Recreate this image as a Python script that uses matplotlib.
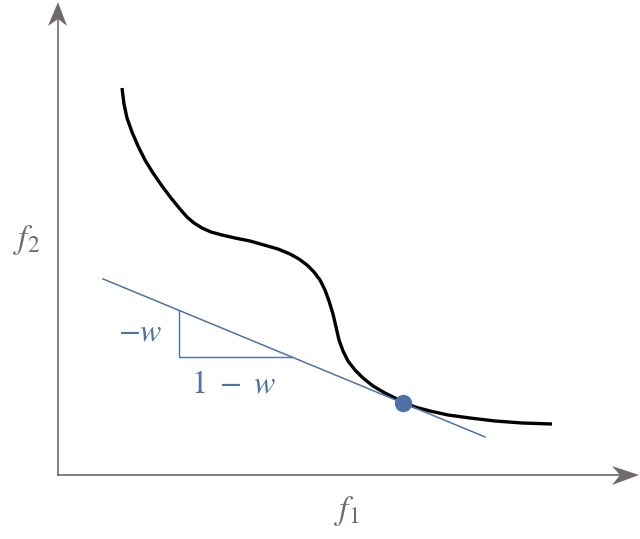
# Pareto front with a weighted-sum tangent line
import numpy as np
import matplotlib.pyplot as plt
from matplotlib.patches import Polygon

plt.rcParams['mathtext.fontset'] = 'stix'

# front (origin at the axes corner, y up)
f1 = np.array([64, 66, 69, 74, 80, 87, 95, 104, 113, 122, 129, 136, 144, 153, 164,
               177, 192, 206, 220, 232, 241, 249, 256, 262, 267, 271, 275, 278, 281,
               285, 290, 297, 305, 315, 327, 337, 345, 357, 372, 390, 412, 437, 464, 494])
f2 = np.array([387, 371, 357, 343, 329, 315, 302, 289, 277, 266, 258, 252, 247, 243, 240,
               237, 234, 230, 226, 221, 216, 210, 203, 195, 185, 174, 161, 148, 135,
               124, 114, 105, 97, 89, 82, 77, 73, 68, 64, 60, 57, 54, 52, 51])

opt = (345, 72)          # tangent point
slope = -0.4136          # -w/(1-w)
line_x = np.array([45, 427])
tri_x = np.array([121, 234])

grey = '#6f6b6b'
blue = '#4c72a6'

fig = plt.figure(figsize=(6.4, 5.39), dpi=100)
ax = fig.add_axes([0, 0, 1, 1])
ax.set_xlim(-58, 582)
ax.set_ylim(-64, 475)
ax.axis('off')

# axes with arrow heads
ax.plot([0, 0], [0, 460], color=grey, lw=1.2)
ax.plot([0, 565], [0, 0], color=grey, lw=1.2)
ax.add_patch(Polygon([(0, 473), (-10, 449), (0, 456), (9, 449)], color=grey, lw=0))
ax.add_patch(Polygon([(581, 0), (554, 9), (562, 0), (554, -10)], color=grey, lw=0))

ax.plot(f1, f2, color='black', lw=2.4, solid_capstyle='butt', solid_joinstyle='round')

line_y = opt[1] + slope * (line_x - opt[0])
ax.plot(line_x, line_y, color=blue, lw=1.1)
ty = opt[1] + slope * (tri_x - opt[0])
ax.plot([tri_x[0], tri_x[0], tri_x[1]], [ty[0], ty[1], ty[1]], color=blue, lw=1.0)
ax.plot(*opt, 'o', color=blue, ms=11.5, zorder=5)

ax.text(tri_x[0] - 16, (ty[0] + ty[1]) / 2 + 2, r'$-w$', color=blue, fontsize=23,
        ha='right', va='center')
ax.text((tri_x[0] + tri_x[1]) / 2 - 2, ty[1] - 11, r'$1\ -\ w$', color=blue, fontsize=23,
        ha='center', va='top')
ax.text(-31, 235, r'$f_2$', color=grey, fontsize=24, ha='center', va='center')
ax.text(289, -36, r'$f_1$', color=grey, fontsize=24, ha='center', va='center')

fig.savefig('out.png', dpi=100)
